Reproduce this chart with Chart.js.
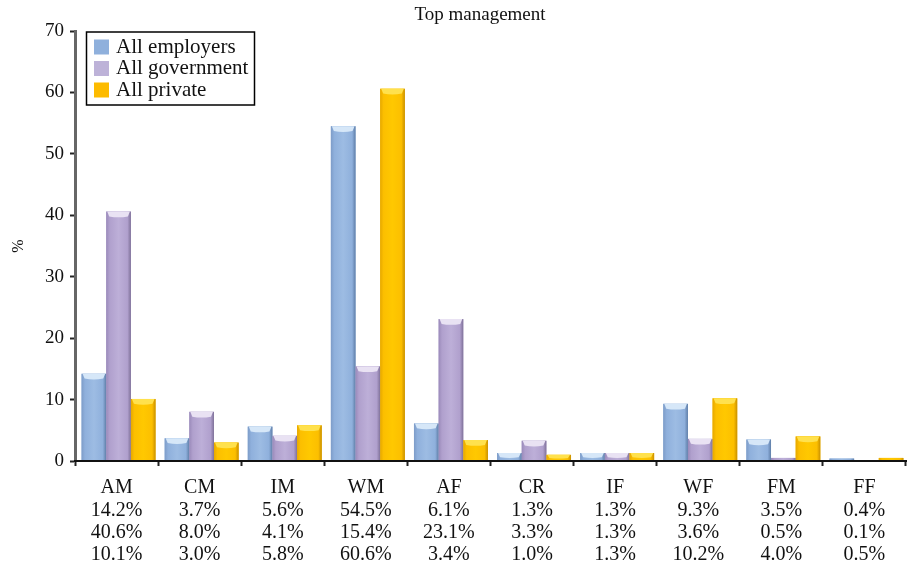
<!DOCTYPE html>
<html>
<head>
<meta charset="utf-8">
<script src="https://cdn.jsdelivr.net/npm/chart.js@4"></script>
<style>
html, body { margin: 0; padding: 0; background: #fff; }
#wrap { position: relative; width: 907px; height: 562px; overflow: hidden; }
</style>
</head>
<body>
<div id="wrap"><canvas id="chart" width="907" height="562"></canvas></div>
<script>
const categories = ['AM', 'CM', 'IM', 'WM', 'AF', 'CR', 'IF', 'WF', 'FM', 'FF'];
const allEmployers = [14.2, 3.7, 5.6, 54.5, 6.1, 1.3, 1.3, 9.3, 3.5, 0.4];
const allGovernment = [40.6, 8.0, 4.1, 15.4, 23.1, 3.3, 1.3, 3.6, 0.5, 0.1];
const allPrivate = [10.1, 3.0, 5.8, 60.6, 3.4, 1.0, 1.3, 10.2, 4.0, 0.5];
const yTicks = [0, 10, 20, 30, 40, 50, 60, 70];

const fontName = '"Liberation Serif", "Times New Roman", serif';

function pct(v) {
    return v.toFixed(1) + '%';
}

// shading + pale cap, painted over the plain bars so they look round
const barShade = {
    id: 'barShade',
    afterDatasetsUpdate(chart) {
        // the groups sit a bit right of the category centre in the original
        chart.data.datasets.forEach((ds, i) => {
            chart.getDatasetMeta(i).data.forEach((bar) => {
                bar.x += 2;
            });
        });
    },
    afterDatasetsDraw(chart) {
        const ctx = chart.ctx;
        chart.data.datasets.forEach((ds, i) => {
            chart.getDatasetMeta(i).data.forEach((bar) => {
                const h = bar.base - bar.y;
                const half = bar.width / 2;
                const left = bar.x - half;
                const right = bar.x + half;
                const g = ctx.createLinearGradient(left, 0, right, 0);
                g.addColorStop(0, ds.shade[0]);
                g.addColorStop(0.14, ds.shade[1]);
                g.addColorStop(0.5, ds.shade[2]);
                g.addColorStop(0.86, ds.shade[1]);
                g.addColorStop(1, ds.shade[3]);
                ctx.save();
                ctx.fillStyle = g;
                ctx.fillRect(left, bar.y, bar.width, h);
                if (h >= 3) {
                    const cap = Math.min(6, h * 0.7);
                    ctx.fillStyle = ds.capColor;
                    ctx.beginPath();
                    ctx.moveTo(left + 1, bar.y);
                    ctx.lineTo(right - 1, bar.y);
                    ctx.lineTo(right - 3, bar.y + cap * 0.8);
                    ctx.quadraticCurveTo(bar.x, bar.y + cap * 1.1, left + 3, bar.y + cap * 0.8);
                    ctx.closePath();
                    ctx.fill();
                }
                ctx.restore();
            });
        });
    }
};

// title and framed legend sit at fixed spots over the plot
const overlay = {
    id: 'overlay',
    afterDraw(chart) {
        const ctx = chart.ctx;
        ctx.save();
        ctx.font = '19px ' + fontName;
        ctx.fillStyle = '#111';
        ctx.textAlign = 'center';
        ctx.textBaseline = 'middle';
        ctx.fillText('Top management', 480, 15);
        ctx.textAlign = 'left';
        ctx.strokeStyle = '#000';
        ctx.lineWidth = 1.5;
        ctx.fillStyle = '#fff';
        ctx.fillRect(86.5, 32, 168, 73);
        ctx.strokeRect(86.5, 32, 168, 73);
        ctx.font = '21px ' + fontName;
        chart.data.datasets.forEach((ds, i) => {
            const y = 47 + i * 21.5;
            ctx.fillStyle = ds.legendColor;
            ctx.fillRect(94, y - 7.5, 15, 15);
            ctx.fillStyle = '#111';
            ctx.fillText(ds.label, 116, y);
        });
        ctx.restore();
    }
};

new Chart(document.getElementById('chart').getContext('2d'), {
    type: 'bar',
    data: {
        labels: categories.map((c, i) => [c, pct(allEmployers[i]), pct(allGovernment[i]), pct(allPrivate[i])]),
        datasets: [
            {
                label: 'All employers',
                data: allEmployers,
                backgroundColor: '#93b5df',
                shade: ['#7d9cc8', '#8fb0dc', '#9dbce3', '#5f7ea8'],
                capColor: '#d6e7f8',
                legendColor: '#8fb0dc'
            },
            {
                label: 'All government',
                data: allGovernment,
                backgroundColor: '#b3a3cf',
                shade: ['#9a8aba', '#b0a0cd', '#bdafd8', '#7f7199'],
                capColor: '#e9e2f3',
                legendColor: '#bdb2d8'
            },
            {
                label: 'All private',
                data: allPrivate,
                backgroundColor: '#fcc000',
                shade: ['#e6a800', '#fcbf00', '#ffc800', '#c99000'],
                capColor: '#ffe14d',
                legendColor: '#fdbb00'
            }
        ]
    },
    options: {
        responsive: false,
        animation: false,
        layout: { padding: { top: 31, right: 1, bottom: 0, left: 9 } },
        datasets: { bar: { categoryPercentage: 0.89, barPercentage: 1 } },
        plugins: {
            legend: { display: false },
            tooltip: { enabled: false }
        },
        scales: {
            x: {
                afterFit(axis) {
                    axis.height = 101;
                },
                grid: { drawOnChartArea: false, tickLength: 5, tickColor: '#222', tickWidth: 2 },
                border: { color: '#111', width: 2, z: 1 },
                ticks: {
                    color: '#111',
                    maxRotation: 0,
                    autoSkip: false,
                    padding: 11,
                    font: { family: fontName, size: 20, lineHeight: 1.115 }
                }
            },
            y: {
                min: 0,
                max: 70,
                afterBuildTicks(axis) {
                    axis.ticks = yTicks.map((v) => ({ value: v }));
                },
                afterFit(axis) {
                    axis.width = 66;
                },
                grid: { drawOnChartArea: false, tickLength: 5, tickColor: '#222', tickWidth: 2 },
                border: { color: '#666', width: 3 },
                ticks: {
                    color: '#111',
                    padding: 6,
                    font: { family: fontName, size: 19 }
                },
                title: {
                    display: true,
                    text: '%',
                    color: '#111',
                    font: { family: fontName, size: 16, weight: 'normal' },
                    padding: { top: 0, bottom: 0 }
                }
            }
        }
    },
    plugins: [barShade, overlay]
});
</script>
</body>
</html>
